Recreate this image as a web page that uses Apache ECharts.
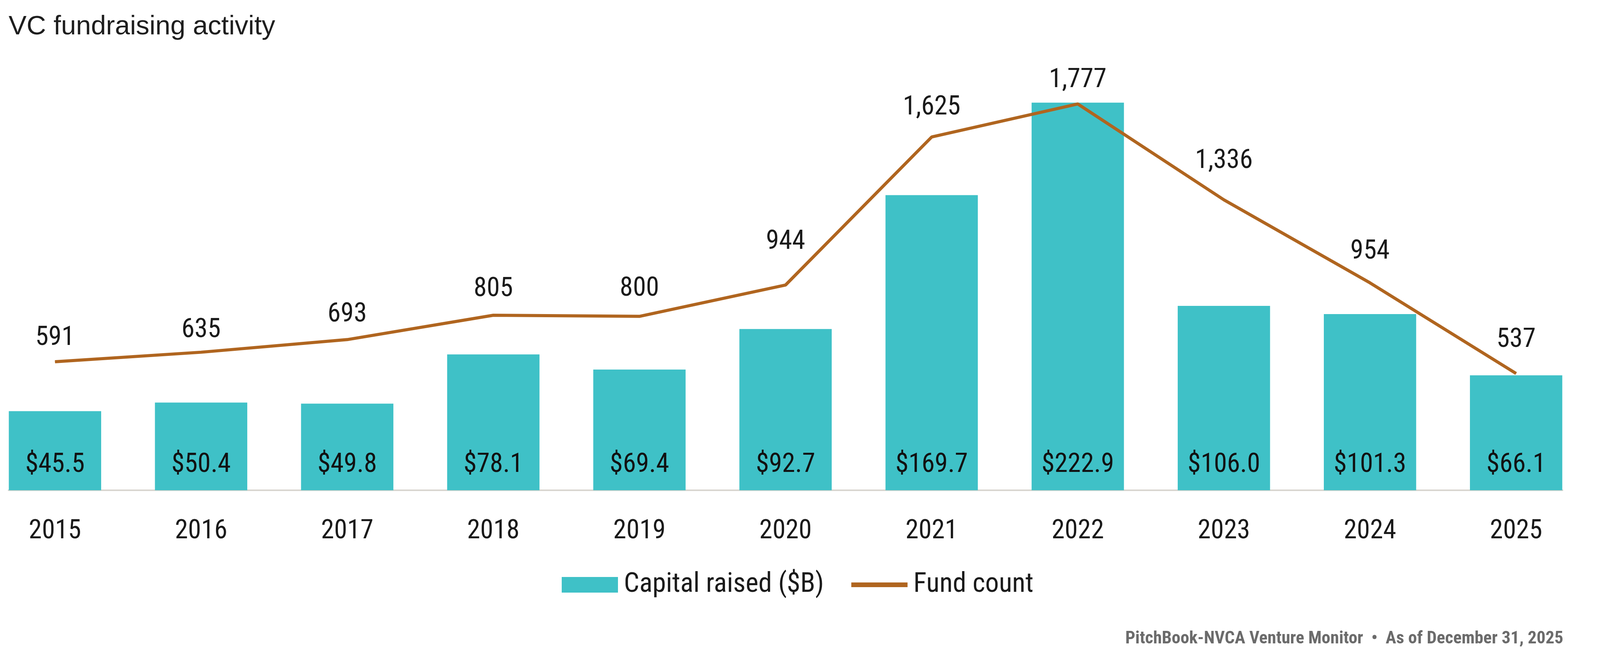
<!DOCTYPE html>
<html>
<head>
<meta charset="utf-8">
<script src="https://cdn.jsdelivr.net/npm/echarts@6/dist/echarts.min.js"></script>
<style>
  html, body { margin: 0; padding: 0; background: #ffffff; overflow: hidden; }
  #chart { width: 100vw; height: 100vh; }
</style>
</head>
<body>
<div id="chart"></div>
<script>
// ---- data ----
const years = ['2015', '2016', '2017', '2018', '2019', '2020', '2021', '2022', '2023', '2024', '2025'];
const capitalRaised = [45.5, 50.4, 49.8, 78.1, 69.4, 92.7, 169.7, 222.9, 106.0, 101.3, 66.1];
const fundCount = [591, 635, 693, 805, 800, 944, 1625, 1777, 1336, 954, 537];

// ---- styling: lift of each fund-count label above its point (px) ----
const countLabelGap = [26, 21, 29, 32, 35, 75, 40, 26, 64, 45, 51];

const narrow = "'Liberation Sans Narrow', 'Roboto Condensed', Roboto, sans-serif";
const barColor = '#3fc1c7';
const lineColor = '#b0651f';

const el = document.getElementById('chart');
const W = el.clientWidth || window.innerWidth;
const k = W / 4224;               // horizontal layout designed for a 4224 px wide canvas
const sx = (v) => Math.round(v * k);

const chart = echarts.init(el, null, { renderer: 'canvas' });

chart.setOption({
  animation: false,
  backgroundColor: '#ffffff',
  title: [
    {
      text: 'VC fundraising activity',
      left: sx(18),
      top: 29,
      textStyle: { fontFamily: "'Liberation Sans', Arial, sans-serif", fontSize: 69, fontWeight: 'normal', color: '#1e1e1e' }
    },
    {
      text: 'PitchBook-NVCA Venture Monitor  \u2022  As of December 31, 2025',
      right: sx(92),
      top: 1608,
      textStyle: { fontFamily: narrow, fontSize: 45, fontWeight: 'bold', color: '#6b6b6b' }
    }
  ],
  legend: {
    left: sx(1478),
    top: 1457,
    itemWidth: sx(148),
    itemHeight: 40,
    itemGap: sx(66),
    textStyle: { fontFamily: narrow, fontSize: 70, color: '#1a1a1a', padding: [0, 0, 0, 10] },
    data: [
      { name: 'Capital raised ($B)', icon: 'rect' },
      { name: 'Fund count', itemStyle: { opacity: 0 }, lineStyle: { width: 12 } }
    ]
  },
  grid: { left: sx(23), right: sx(99), top: 142, bottom: 455, containLabel: false },
  xAxis: {
    type: 'value',
    min: -0.3175,
    max: 10.3175,
    splitLine: { show: false },
    axisTick: { show: false },
    axisLine: { show: true, lineStyle: { color: '#d9d6d0', width: 4 } },
    axisLabel: {
      customValues: years.map((_, i) => i),
      formatter: (v) => years[Math.round(v)] || '',
      margin: 72,
      fontFamily: narrow,
      fontSize: 68,
      color: '#1a1a1a'
    }
  },
  yAxis: [
    { type: 'value', min: 0, max: 250, show: false, splitLine: { show: false } },
    { type: 'value', min: 0, max: 2000, show: false, splitLine: { show: false } }
  ],
  series: [
    {
      name: 'Capital raised ($B)',
      type: 'bar',
      xAxisIndex: 0,
      yAxisIndex: 0,
      barWidth: '63.2%',
      itemStyle: { color: barColor },
      z: 2,
      label: {
        show: true,
        position: 'insideBottom',
        distance: 30,
        fontFamily: narrow,
        fontSize: 68,
        color: '#111111',
        formatter: (p) => '$' + p.value[1].toFixed(1)
      },
      data: capitalRaised.map((v, i) => [i, v])
    },
    {
      name: 'Fund count',
      type: 'line',
      xAxisIndex: 0,
      yAxisIndex: 1,
      symbol: 'circle',
      symbolSize: 1,
      itemStyle: { color: lineColor },
      lineStyle: { color: lineColor, width: 8 },
      z: 3,
      label: {
        show: true,
        position: 'top',
        fontFamily: narrow,
        fontSize: 68,
        color: '#1a1a1a',
        formatter: (p) => p.value[1].toLocaleString('en-US')
      },
      data: fundCount.map((v, i) => ({ value: [i, v], label: { distance: countLabelGap[i] } }))
    }
  ]
});
</script>
</body>
</html>
